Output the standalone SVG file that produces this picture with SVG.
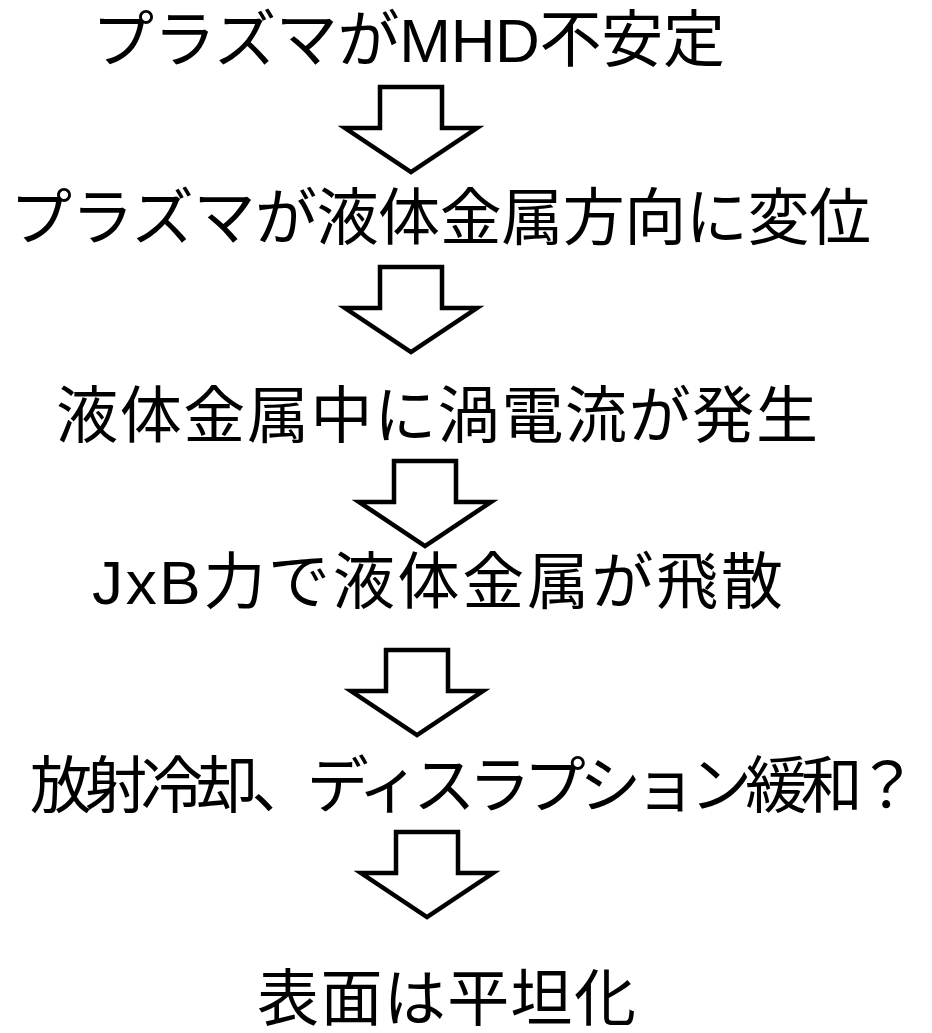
<svg xmlns="http://www.w3.org/2000/svg" xmlns:xlink="http://www.w3.org/1999/xlink" width="932" height="1033" viewBox="0 0 932 1033">
  <style>
    .lbl { font-family: "Liberation Sans", "Noto Sans CJK JP", sans-serif; font-size: 62px; fill: #000; }
    .arrow { fill: #fff; stroke: #000; stroke-width: 4.5; stroke-linejoin: miter; }
  </style>
  <defs>
    <path id="downArrow" class="arrow" d="M -31 -85 L 31 -85 L 31 -44 L 66 -44 L 0 0 L -66 -44 L -31 -44 Z"/>
  </defs>
  <rect x="0" y="0" width="932" height="1033" fill="#fff"/>

  <g id="node1"><text class="lbl" x="92" y="62" textLength="633" lengthAdjust="spacing">プラズマがMHD不安定</text></g>
  <g id="node2"><text class="lbl" x="10" y="240" textLength="861" lengthAdjust="spacing">プラズマが液体金属方向に変位</text></g>
  <g id="node3"><text class="lbl" x="56" y="438" textLength="762" lengthAdjust="spacing">液体金属中に渦電流が発生</text></g>
  <g id="node4"><text class="lbl" x="92" y="604" textLength="691" lengthAdjust="spacing">JxB力で液体金属が飛散</text></g>
  <g id="node5"><text class="lbl" x="30" y="808" textLength="888" lengthAdjust="spacing">放射冷却、ディスラプション緩和？</text></g>
  <g id="node6"><text class="lbl" x="257" y="1021" textLength="379" lengthAdjust="spacing">表面は平坦化</text></g>

  <g id="connectors">
    <use xlink:href="#downArrow" href="#downArrow" transform="translate(411,172)"/>
    <use xlink:href="#downArrow" href="#downArrow" transform="translate(411,352)"/>
    <use xlink:href="#downArrow" href="#downArrow" transform="translate(425,546)"/>
    <use xlink:href="#downArrow" href="#downArrow" transform="translate(417,735)"/>
    <use xlink:href="#downArrow" href="#downArrow" transform="translate(427,917)"/>
  </g>
</svg>
